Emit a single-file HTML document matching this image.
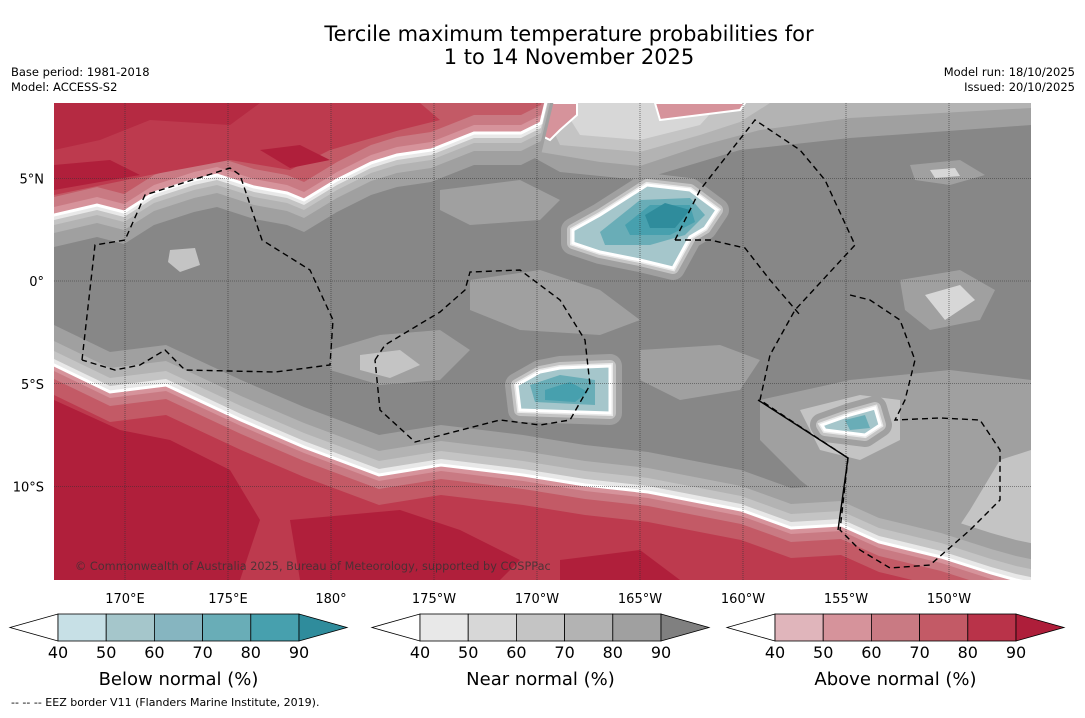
<!DOCTYPE html>
<html><head><meta charset="utf-8">
<style>
html,body{margin:0;padding:0;background:#fff;}
body{width:1085px;height:713px;overflow:hidden;font-family:"Liberation Sans","DejaVu Sans",sans-serif;}
svg text{font-family:"DejaVu Sans","Liberation Sans",sans-serif;}
</style></head>
<body>
<svg id="chart" width="1085" height="713" viewBox="0 0 1085 713">
<text x="569" y="41" text-anchor="middle" font-size="21" fill="#000">Tercile maximum temperature probabilities for</text>
<text x="569" y="64" text-anchor="middle" font-size="21" fill="#000">1 to 14 November 2025</text>
<text x="11" y="76" font-size="11.5" fill="#000">Base period: 1981-2018</text>
<text x="11" y="91" font-size="11.5" fill="#000">Model: ACCESS-S2</text>
<text x="1075" y="76" font-size="11.5" text-anchor="end" fill="#000">Model run: 18/10/2025</text>
<text x="1075" y="91" font-size="11.5" text-anchor="end" fill="#000">Issued: 20/10/2025</text>
<defs><clipPath id="mc"><rect x="54" y="103" width="977" height="477"/></clipPath></defs>
<g id="map" clip-path="url(#mc)">
<rect x="54" y="103" width="977" height="477" fill="#878787"/>
</g>
<g id="grid"></g>
<g id="eez" clip-path="url(#mc)"></g>
<text x="75" y="570" font-size="11.3" fill="#333" fill-opacity="0.8">© Commonwealth of Australia 2025, Bureau of Meteorology, supported by COSPPac</text>
<g id="axes"></g>
<g id="cbars"></g>
<text x="11" y="706" font-size="11" fill="#000">--  --  -- EEZ border V11 (Flanders Marine Institute, 2019).</text>
</svg>
<script>
const lonTicks=[170,175,180,-175,-170,-165,-160,-155,-150];
const lonLabels=["170°E","175°E","180°","175°W","170°W","165°W","160°W","155°W","150°W"];
const latTicks=[5,0,-5,-10];
const latLabels=["5°N","0°","5°S","10°S"];
const levels=[40,50,60,70,80,90];
const belowColors=["#c7e0e6","#a5c6cb","#86b5c0","#69adb7","#47a0ae","#2f8c9c"];
const nearColors=["#e8e8e8","#d7d7d7","#c4c4c4","#b3b3b3","#a0a0a0","#808080"];
const aboveColors=["#e0b5bb","#d6939b","#c97a83","#c35a66","#b93349","#ae1e3a"];
const cbarTitles=["Below normal (%)","Near normal (%)","Above normal (%)"];
const cbarStarts=[58,420,775];

const NS="http://www.w3.org/2000/svg";
function xLon(l){let e=l<0?l+360:l;return 125+(e-170)*20.6;}
function yLat(a){return 281-a*20.55;}
function mk(tag,attrs,parent){const e=document.createElementNS(NS,tag);for(const k in attrs)e.setAttribute(k,attrs[k]);parent.appendChild(e);return e;}
const map=document.getElementById('map');
function poly(pts,fill,name,extra){const e=mk('polygon',Object.assign({points:pts.map(p=>p.join(',')).join(' '),fill:fill},extra||{}),map);


return e;}
function sh(pts,dy){return pts.map(p=>[p[0],p[1]+dy]);}

// top middle grey bands
poly([[520,103],[520,150],[560,172],[640,180],[700,162],[740,150],[850,138],[1031,125],[1031,103]],"#a0a0a0","top-grey-band");
poly([[530,103],[540,152],[600,162],[640,166],[700,146],[760,130],[850,118],[1031,108],[1031,103]],"#b3b3b3","top-grey-band");
poly([[540,103],[560,145],[640,152],[700,135],[740,122],[770,103]],"#c4c4c4","top-grey-band");
poly([[560,103],[580,135],[640,140],[700,125],[720,103]],"#d7d7d7","top-grey-band");
poly([[655,103],[745,103],[740,110],[700,115],[660,120]],"#d6939b","top-red-patch",{stroke:"#fff","stroke-width":2});
poly([[540,103],[577,103],[577,115],[560,130],[550,140],[540,135]],"#d6939b","top-red-patch",{stroke:"#fff","stroke-width":2});

// top red region
const T=[[40,215],[54,215],[97,205],[124,212],[154,193],[194,180],[217,175],[254,187],[287,193],[304,200],[337,180],[371,163],[397,155],[431,150],[474,133],[521,133],[541,123],[556,60]];
function topPoly(d){return sh(T,d).concat([[570,40],[40,40]]);}
poly(topPoly(32),"#a0a0a0","top-band-grey");
poly(topPoly(18),"#b3b3b3","top-band-grey");
poly(topPoly(10),"#c4c4c4","top-band-grey");
poly(topPoly(5),"#e8e8e8","top-band-grey");
poly(topPoly(0),"#d6939b","top-above-40",{stroke:"#fff","stroke-width":3});
poly(topPoly(-8),"#c97a83","top-above-60");
poly(topPoly(-18),"#c35a66","top-above-70");
poly([[54,103],[420,103],[440,120],[400,130],[330,150],[290,170],[230,160],[150,175],[54,195]],"#bd3a4e","top-above-80");
poly([[54,103],[260,103],[230,125],[150,120],[100,140],[54,150]],"#b52a42","top-above-90");
poly([[54,165],[110,160],[140,175],[54,190]],"#b01f3b","top-above-90");
poly([[260,150],[300,145],[330,160],[290,168]],"#b01f3b","top-above-90");

// bottom region grey area right
poly([[760,400],[850,380],[950,370],[1031,380],[1031,560],[900,540],[850,520],[800,480],[760,440]],"#a0a0a0","bottom-right-grey");
poly([[800,410],[860,395],[900,400],[900,440],[860,460],[820,450]],"#c4c4c4","bottom-right-light");
poly([[1031,450],[1000,460],[970,510],[940,555],[1031,560]],"#c4c4c4","bottom-right-light");

const B=[[40,360],[54,365],[110,392],[166,385],[241,420],[304,447],[379,475],[441,465],[523,475],[585,485],[648,492],[741,510],[791,528],[841,525],[879,542],[941,557],[991,573],[1016,580],[1040,585]];
function botPoly(d){return sh(B,d).concat([[1040,600],[40,600]]);}
poly(botPoly(-40),"#a0a0a0","bottom-band-grey");
poly(botPoly(-24),"#b3b3b3","bottom-band-grey");
poly(botPoly(-14),"#c4c4c4","bottom-band-grey");
poly(botPoly(-6),"#e8e8e8","bottom-band-grey");
poly(botPoly(0),"#d6939b","bottom-above-40",{stroke:"#fff","stroke-width":3});
poly(botPoly(6),"#c97a83","bottom-above-60");
poly(botPoly(14),"#c35a66","bottom-above-70");
poly(botPoly(30),"#bd3a4e","bottom-above-80");
poly([[54,400],[120,430],[170,440],[230,470],[260,520],[240,580],[54,580]],"#b01f3b","bottom-above-90");
poly([[290,520],[400,510],[460,530],[520,560],[500,580],[300,580]],"#b01f3b","bottom-above-90");
poly([[560,560],[640,550],[680,580],[560,580]],"#b01f3b","bottom-above-90");

// middle light-grey patches
poly([[470,280],[540,270],[600,290],[640,320],[600,335],[520,330],[470,310]],"#a0a0a0","mid-grey-patch");
poly([[330,350],[380,335],[440,330],[470,350],[440,380],[380,385],[330,370]],"#a0a0a0","mid-grey-patch");
poly([[360,355],[400,350],[420,365],[390,378],[360,370]],"#c4c4c4","mid-grey-patch");
poly([[640,350],[720,345],[760,360],[740,390],[680,400],[640,380]],"#a0a0a0","mid-grey-patch");
poly([[440,190],[520,180],[560,200],[540,220],[470,225],[440,210]],"#a0a0a0","mid-grey-patch");
poly([[900,280],[960,270],[995,290],[980,320],[930,330],[905,310]],"#a0a0a0","mid-grey-patch");
poly([[925,295],[960,285],[975,300],[945,320]],"#d7d7d7","mid-grey-patch");
poly([[910,165],[960,160],[985,175],[950,185],[915,180]],"#a0a0a0","mid-grey-patch");
poly([[930,170],[955,168],[960,176],[935,178]],"#d7d7d7","mid-grey-patch");
poly([[170,250],[195,248],[200,265],[180,272],[168,262]],"#c4c4c4","island-patch");

// blue blobs
function blob(outer,b1,b2,b3,name){
poly(outer,"#a0a0a0",name+"-halo",{stroke:"#a0a0a0","stroke-width":24,"stroke-linejoin":"round"});
poly(outer,"#c4c4c4",name+"-halo",{stroke:"#c4c4c4","stroke-width":12,"stroke-linejoin":"round"});
poly(outer,"#e8e8e8",name+"-halo",{stroke:"#e8e8e8","stroke-width":6});
poly(outer,"#a5c6cb",name,{stroke:"#fff","stroke-width":3});
if(b1)poly(b1,"#69adb7",name+"-core");
if(b2)poly(b2,"#47a0ae",name+"-core");
if(b3)poly(b3,"#2f8c9c",name+"-core");}
blob([[573,230],[600,215],[647,185],[690,190],[717,210],[705,228],[690,237],[673,268],[640,260],[600,252],[573,243]],
 [[600,232],[640,200],[690,198],[705,215],[685,235],[650,245],[605,245]],
 [[625,225],[650,205],[690,205],[695,222],[670,235],[630,235]],
 [[645,215],[665,203],[690,210],[675,228],[650,228]],"below-blob-north");
blob([[517,385],[540,372],[560,368],[610,366],[610,413],[520,410]],
 [[530,385],[560,375],[595,380],[595,405],[535,402]],
 [[545,390],[570,382],[588,392],[575,402],[545,400]],null,"below-blob-south");
blob([[822,425],[850,415],[875,408],[880,425],[865,435],[825,430]],
 [[845,420],[865,415],[870,428],[850,430]],null,null,"below-blob-east");

// graticule
const grid=document.getElementById('grid');
lonTicks.forEach(l=>{const e=mk('line',{x1:xLon(l),x2:xLon(l),y1:103,y2:580,stroke:'#333','stroke-width':0.6,'stroke-dasharray':'1,1'},grid);

});
latTicks.forEach(a=>{const e=mk('line',{x1:54,x2:1031,y1:yLat(a),y2:yLat(a),stroke:'#333','stroke-width':0.6,'stroke-dasharray':'1,1'},grid);

});

// EEZ dashed lines
const eez=document.getElementById('eez');
const eezPaths=[
"M82,360 L95,245 L125,240 L145,195 L230,168 L240,175 L262,240 L310,270 L333,320 L330,365 L275,372 L185,370 L165,350 L140,365 L115,370 L82,360",
"M375,360 L385,345 L440,312 L465,290 L470,272 L520,270 L560,300 L585,340 L590,385 L570,420 L540,425 L500,420 L415,442 L380,410 L375,360",
"M675,240 L700,190 L755,120 L800,150 L825,180 L855,245 L795,310 L770,355 L760,400 L790,420 L848,458",
"M675,240 L710,240 L745,248 L770,280 L800,315",
"M850,295 L870,300 L900,320 L915,360 L905,400 L895,420 L940,418 L980,420 L1000,450 L1000,500 L970,530 L930,565 L890,568 L860,550 L840,530 L848,458",
];
eezPaths.forEach(d=>{const e=mk('path',{d:d,fill:'none',stroke:'#000','stroke-width':1.4,'stroke-dasharray':'6,4'},eez);

});
const sol=mk('path',{d:"M758,400 L848,458 L838,530",fill:'none',stroke:'#000','stroke-width':1.4},eez);



// axis labels
const axes=document.getElementById('axes');
lonTicks.forEach((l,i)=>{const t=mk('text',{x:xLon(l),y:603,'font-size':13,'text-anchor':'middle',fill:'#000'},axes);t.textContent=lonLabels[i];

});
latTicks.forEach((a,i)=>{const t=mk('text',{x:44,y:yLat(a)+5,'font-size':13,'text-anchor':'end',fill:'#000'},axes);t.textContent=latLabels[i];

});

// colorbars
const cb=document.getElementById('cbars');
const sets=[belowColors,nearColors,aboveColors];
const bw=48.2, y0=614, h=27;
sets.forEach((cols,k)=>{
 const x0=cbarStarts[k], x1=x0+bw*(levels.length-1);
 const lt=mk('polygon',{points:`${x0},${y0} ${x0},${y0+h} ${x0-48},${y0+h/2}`,fill:'#fff',stroke:'#000','stroke-width':0.8},cb);
 
 
 for(let i=0;i<levels.length-1;i++){
  const r=mk('rect',{x:x0+i*bw,y:y0,width:bw,height:h,fill:cols[i],stroke:'#000','stroke-width':0.8},cb);
  
  
 }
 const rt=mk('polygon',{points:`${x1},${y0} ${x1},${y0+h} ${x1+48},${y0+h/2}`,fill:cols[5],stroke:'#000','stroke-width':0.8},cb);
 
 
 levels.forEach((v,i)=>{const t=mk('text',{x:x0+i*bw,y:658,'font-size':16,'text-anchor':'middle',fill:'#000'},cb);t.textContent=v;
  
  });
 const tt=mk('text',{x:(x0+x1)/2,y:685,'font-size':18,'text-anchor':'middle',fill:'#000'},cb);tt.textContent=cbarTitles[k];
 
 
});
</script>
</body></html>
